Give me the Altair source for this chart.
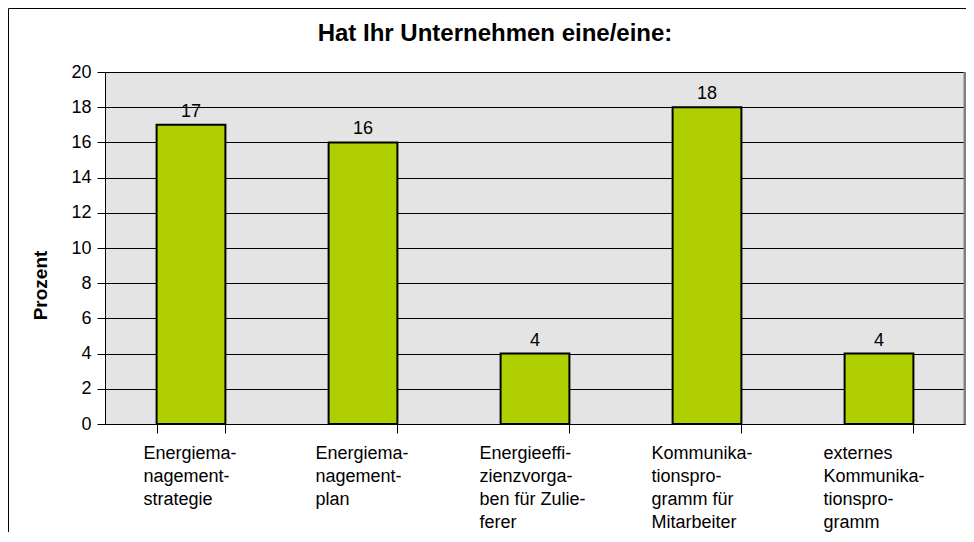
import altair as alt
import pandas as pd

categories = [
    "Energiema-|nagement-|strategie",
    "Energiema-|nagement-|plan",
    "Energieeffi-|zienzvorga-|ben für Zulie-|ferer",
    "Kommunika-|tionspro-|gramm für|Mitarbeiter",
    "externes|Kommunika-|tionspro-|gramm",
]
values = [17, 16, 4, 18, 4]
y_ticks = list(range(0, 21, 2))
title_text = "Hat Ihr Unternehmen eine/eine:"
y_title = "Prozent"

df = pd.DataFrame({"cat": categories, "val": values})
dummy = pd.DataFrame({"d": [0]})

W, H = 860, 352
FONT = "Liberation Sans"

x = alt.X(
    "cat:N",
    sort=categories,
    scale=alt.Scale(paddingInner=0.6, paddingOuter=0.3),
    axis=alt.Axis(
        title="",
        labelExpr="split(datum.label, '|')",
        labelAlign="left",
        labelOffset={"condition": {"test": "datum.index < 0.4", "value": -48}, "value": -56},
        labelBaseline="top",
        labelPadding=11,
        labelLineHeight=23,
        labelFontSize=18,
        labelFont=FONT,
        labelColor="black",
        labelAngle=0,
        labelOverlap=False,
        tickBand="extent",
        tickSize=9,
        tickColor="black",
        domainColor="black",
        grid=False,
    ),
)
y = alt.Y(
    "val:Q",
    scale=alt.Scale(domain=[0, 20], nice=False),
    axis=alt.Axis(
        title=y_title,
        values=y_ticks,
        format="d",
        titleFont=FONT,
        titleFontSize=19,
        titleFontWeight="bold",
        titleColor="black",
        titleAngle=-90,
        titleX=-65,
        titleY=213,
        titleAlign="center",
        titleBaseline="middle",
        labelFont=FONT,
        labelFontSize=18,
        labelColor="black",
        labelPadding=6,
        tickSize=8,
        tickColor="black",
        domainColor="black",
        gridColor="black",
        gridOpacity=1,
    ),
)

plot_border = alt.Chart(dummy).mark_rule(color="#808080", strokeWidth=3).encode(
    x=alt.value(W), y=alt.value(0), y2=alt.value(H)
)
bars = alt.Chart(df).mark_bar(color="#AFCF00", stroke="black", strokeWidth=2).encode(x=x, y=y)
labels = alt.Chart(df).mark_text(
    dy=-8, baseline="alphabetic", fontSize=18, font=FONT, color="black"
).encode(x=x, y=y, text="val:Q")
frame_v = alt.Chart(dummy).mark_rule(color="black", strokeWidth=1).encode(
    x=alt.value(-96.5), y=alt.value(-63.5), y2=alt.value(H + 200)
)
frame_h = alt.Chart(dummy).mark_rule(color="black", strokeWidth=1).encode(
    x=alt.value(-96.5), x2=alt.value(W + 100), y=alt.value(-63.5)
)

chart = (
    alt.layer(plot_border, bars, labels, frame_v, frame_h)
    .properties(
        width=W,
        height=H,
        autosize=alt.AutoSizeParams(type="none"),
        padding={"left": 97, "top": 64, "right": 1, "bottom": 108},
        title=alt.TitleParams(
            text=title_text,
            font=FONT,
            fontSize=24,
            fontWeight="bold",
            color="black",
            anchor="middle",
            baseline="alphabetic",
            dx=-40,
            dy=61,
        ),
    )
    .configure_view(fill="#E4E4E4", stroke="transparent")
)

chart.save("out.html", embed_options={"renderer": "svg", "actions": False})
